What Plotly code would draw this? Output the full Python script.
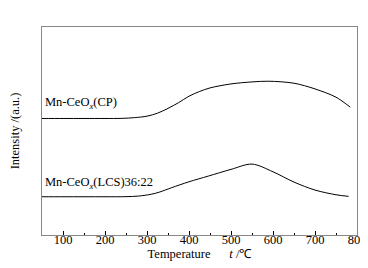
import plotly.graph_objects as go

temp_cp = [50, 100, 150, 200, 240, 270, 300, 325, 350, 375, 400, 425, 450, 500, 550, 590, 650, 700, 750, 784]
int_cp = [116.7, 116.7, 116.7, 116.7, 116.8, 117.5, 119.0, 122.0, 126.8, 132.5, 139.0, 143.7, 147.3, 151.3, 153.3, 154.0, 152.0, 146.3, 138.0, 128.0]

temp_lcs = [50, 100, 150, 200, 250, 280, 310, 330, 358, 400, 446, 500, 550, 600, 650, 700, 750, 780]
int_lcs = [38.3, 38.3, 38.3, 38.3, 38.4, 39.0, 40.8, 43.0, 47.3, 53.3, 59.0, 65.7, 71.0, 63.3, 53.0, 45.0, 40.3, 38.7]

x_ticks = [100, 200, 300, 400, 500, 600, 700, 800]
labels = ["Mn-CeO<sub><i>x</i></sub>(CP)", "Mn-CeO<sub><i>x</i></sub>(LCS)36:22"]

font = "Liberation Serif, Times New Roman, serif"

fig = go.Figure()
fig.add_trace(go.Scatter(x=temp_cp, y=int_cp, mode="lines",
                         line=dict(color="black", width=1, shape="spline", smoothing=0.9), showlegend=False))
fig.add_trace(go.Scatter(x=temp_lcs, y=int_lcs, mode="lines",
                         line=dict(color="black", width=1, shape="spline", smoothing=0.9), showlegend=False))

fig.add_annotation(x=52, y=int_cp[0] + 15, text=labels[0], showarrow=False, xanchor="left", yanchor="middle",
                   font=dict(family=font, size=12.5, color="black"))
fig.add_annotation(x=52, y=int_lcs[0] + 14, text=labels[1], showarrow=False, xanchor="left", yanchor="middle",
                   font=dict(family=font, size=12.5, color="black"))

fig.update_layout(
    width=368, height=268,
    margin=dict(l=34, r=19, t=19, b=41),
    plot_bgcolor="white", paper_bgcolor="white",
    font=dict(family=font, size=12, color="black"),
    xaxis=dict(range=[50, 800], tickvals=x_ticks, ticks="inside", ticklen=4, tickcolor="black",
               showgrid=False, zeroline=False, showline=True, linecolor="#888", linewidth=1, mirror=True,
               minor=dict(tickvals=[150, 250, 350, 450, 550, 650, 750], ticks="inside", ticklen=2, tickcolor="black"),
               ticklabelstandoff=-7, automargin=False, ticklabeloverflow="allow",
               title=dict(text="Temperature&nbsp;&nbsp;&nbsp;&nbsp;&nbsp;&nbsp;<i>t</i> /℃", standoff=0, font=dict(size=12.5)),
               tickfont=dict(size=12.5)),
    yaxis=dict(range=[0, 208.3], showticklabels=False, ticks="", showgrid=False, zeroline=False,
               showline=True, linecolor="#888", linewidth=1, mirror=True, automargin=False,
               title=dict(text="Intensity /(a.u.)", standoff=20, font=dict(size=12.5))),
)

fig.write_html("out.html")
